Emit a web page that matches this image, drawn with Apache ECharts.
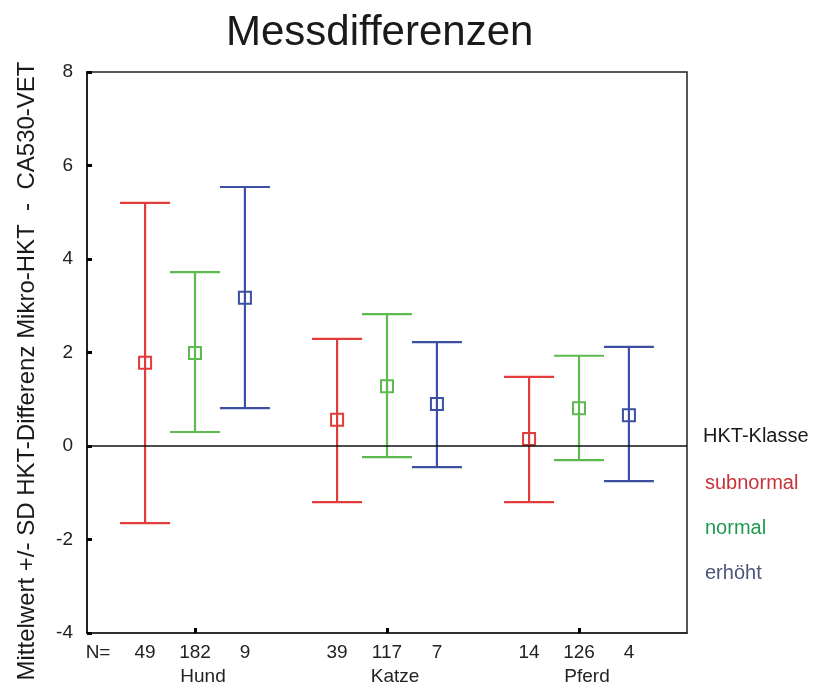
<!DOCTYPE html>
<html>
<head>
<meta charset="utf-8">
<script src="https://cdn.jsdelivr.net/npm/echarts@6/dist/echarts.min.js"></script>
<style>
  html, body { margin: 0; padding: 0; background: #fff; }
  #main { width: 815px; height: 687px; }
</style>
</head>
<body>
<div id="main"></div>
<script>
// Daten: Messdifferenzen je Tierart und HKT-Klasse
var groups = ['Hund', 'Katze', 'Pferd'];
var classes = ['subnormal', 'normal', 'erhöht'];

var meanSub = [1.78, 0.56, 0.15];
var lowSub = [-1.65, -1.20, -1.20];
var highSub = [5.20, 2.29, 1.48];
var nSub = [49, 39, 14];

var meanNorm = [1.99, 1.28, 0.81];
var lowNorm = [0.30, -0.24, -0.30];
var highNorm = [3.72, 2.82, 1.93];
var nNorm = [182, 117, 126];

var meanErh = [3.17, 0.90, 0.66];
var lowErh = [0.81, -0.45, -0.75];
var highErh = [5.54, 2.22, 2.12];
var nErh = [9, 7, 4];

var yTicks = [-4, -2, 0, 2, 4, 6, 8];

var lineColors = ['#e23b3b', '#5cba4f', '#3b4fa3'];
var textColors = ['#c8323a', '#1f9a4e', '#4a5578'];
var off = 0.26;      // Versatz der Klassen innerhalb einer Gruppe
var nLabelPos = 0.495;

function makeData(lo, hi, mean, shift) {
  return groups.map(function (g, i) {
    return [i + 1 + shift, lo[i], hi[i], mean[i]];
  });
}

// x-Positionen und N-Werte fuer die Achsenbeschriftung
var xsAll = [nLabelPos];
var nAll = ['N='];
groups.forEach(function (g, i) {
  xsAll.push(i + 1 - off, i + 1, i + 1 + off);
  nAll.push(String(nSub[i]), String(nNorm[i]), String(nErh[i]));
});

function renderBar(params, api) {
  var x = api.value(0);
  var pLo = api.coord([x, api.value(1)]);
  var pHi = api.coord([x, api.value(2)]);
  var pM = api.coord([x, api.value(3)]);
  var cap = 25, s = 6;
  var color = lineColors[params.seriesIndex];
  var st = { stroke: color, lineWidth: 2.2, fill: null };
  return {
    type: 'group',
    children: [
      { type: 'line', shape: { x1: pLo[0], y1: pLo[1], x2: pHi[0], y2: pHi[1] }, style: st },
      { type: 'line', shape: { x1: pHi[0] - cap, y1: pHi[1], x2: pHi[0] + cap, y2: pHi[1] }, style: st },
      { type: 'line', shape: { x1: pLo[0] - cap, y1: pLo[1], x2: pLo[0] + cap, y2: pLo[1] }, style: st },
      { type: 'rect', shape: { x: pM[0] - s, y: pM[1] - s, width: 2 * s, height: 2 * s }, style: { stroke: color, lineWidth: 2, fill: 'rgba(0,0,0,0)' } }
    ]
  };
}

var font = 'Liberation Sans, Arial, sans-serif';
var chart = echarts.init(document.getElementById('main'));

var option = {
  backgroundColor: '#fff',
  animation: false,
  title: {
    text: 'Messdifferenzen',
    left: 221,
    top: 7,
    textStyle: { fontFamily: font, fontSize: 42, fontWeight: 'normal', color: '#1a1a1a' }
  },
  legend: {
    orient: 'vertical',
    left: 695,
    top: 468,
    itemWidth: 0,
    itemHeight: 0,
    itemGap: 25,
    selectedMode: false,
    textStyle: { fontFamily: font, fontSize: 20, padding: 0 },
    data: classes.map(function (c, i) {
      return { name: c, icon: 'none', textStyle: { color: textColors[i] } };
    })
  },
  graphic: [
    {
      type: 'text',
      left: 703,
      top: 426,
      style: { text: 'HKT-Klasse', font: '20px ' + font, fill: '#1a1a1a' }
    },
    {
      type: 'text',
      x: 27,
      y: 371,
      rotation: Math.PI / 2,
      style: {
        text: 'Mittelwert +/- SD HKT-Differenz Mikro-HKT  -  CA530-VET',
        font: '24px ' + font,
        fill: '#1a1a1a',
        align: 'center',
        verticalAlign: 'middle'
      }
    }
  ],
  grid: {
    left: 87, top: 72, right: 128, bottom: 54,
    show: true, borderColor: '#222', borderWidth: 1.5
  },
  xAxis: [
    {
      type: 'value',
      min: 0.4375,
      max: 3.5625,
      axisLine: { show: true, onZero: false, lineStyle: { color: '#222', width: 1.5 } },
      splitLine: { show: false },
      axisTick: {
        show: true, inside: true, length: 5,
        customValues: [1, 2, 3],
        lineStyle: { color: '#000', width: 3 }
      },
      axisLabel: {
        customValues: xsAll,
        margin: 10,
        fontFamily: font, fontSize: 19, color: '#222',
        formatter: function (v) {
          for (var k = 0; k < xsAll.length; k++) {
            if (Math.abs(xsAll[k] - v) < 1e-6) return nAll[k];
          }
          return '';
        }
      }
    },
    {
      type: 'value',
      min: 0.4375,
      max: 3.5625,
      position: 'bottom',
      axisLine: { show: false, onZero: false },
      axisTick: { show: false },
      splitLine: { show: false },
      axisLabel: {
        customValues: [1, 2, 3],
        margin: 34,
        padding: [0, 0, 0, 16],
        fontFamily: font, fontSize: 19, color: '#222',
        formatter: function (v) { return groups[Math.round(v) - 1] || ''; }
      }
    }
  ],
  yAxis: {
    type: 'value',
    min: -4,
    max: 8,
    interval: 2,
    axisLine: { show: true, lineStyle: { color: '#222', width: 2 } },
    axisTick: { show: true, inside: true, length: 5, lineStyle: { color: '#000', width: 3 } },
    splitLine: { show: false },
    axisLabel: {
      margin: 14,
      fontFamily: font, fontSize: 19, color: '#222',
      formatter: function (v) { return yTicks.indexOf(v) >= 0 ? String(v) : ''; }
    }
  },
  series: [
    {
      name: classes[0], type: 'custom', renderItem: renderBar,
      data: makeData(lowSub, highSub, meanSub, -off),
      encode: { x: 0, y: [1, 2, 3] },
      markLine: {
        silent: true, symbol: 'none', label: { show: false },
        lineStyle: { color: '#111', width: 1.5, type: 'solid' },
        data: [{ yAxis: 0 }]
      }
    },
    {
      name: classes[1], type: 'custom', renderItem: renderBar,
      data: makeData(lowNorm, highNorm, meanNorm, 0),
      encode: { x: 0, y: [1, 2, 3] }
    },
    {
      name: classes[2], type: 'custom', renderItem: renderBar,
      data: makeData(lowErh, highErh, meanErh, off),
      encode: { x: 0, y: [1, 2, 3] }
    }
  ]
};

chart.setOption(option);
</script>
</body>
</html>
